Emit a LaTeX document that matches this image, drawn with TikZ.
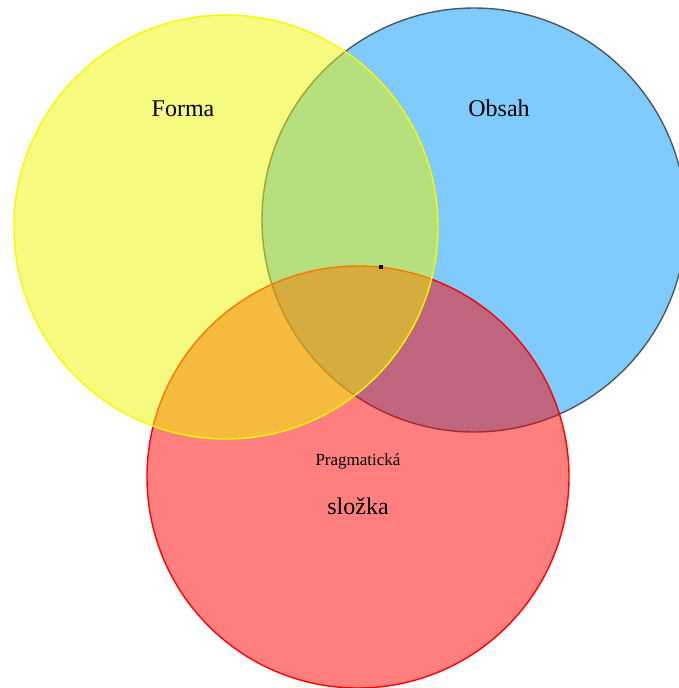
\documentclass[tikz,border=0pt]{standalone}
\usepackage{fontspec}
\setmainfont{Liberation Serif}
\definecolor{ringblue}{RGB}{0,151,251}
\definecolor{edgeblue}{RGB}{72,88,96}
\definecolor{fillred}{RGB}{255,0,0}
\definecolor{fillyellow}{RGB}{237,245,0}
\definecolor{edgeyellow}{RGB}{245,250,0}
\tikzset{
  setring/.style={circle, inner sep=0pt, minimum size=#1, line width=1.4pt, fill opacity=0.5},
  biglabel/.style={font=\fontsize{24}{28}\selectfont, anchor=base, inner sep=0pt},
  smalllabel/.style={font=\fontsize{17}{20}\selectfont, anchor=base, inner sep=0pt},
}
\begin{document}
\begin{tikzpicture}[x=1pt,y=-1pt]
\useasboundingbox (0,0) rectangle (678,688);
\node[setring=424pt, draw=edgeblue, fill=ringblue] (obsahring) at (474,220) {};
\node[setring=422pt, draw=fillred, fill=fillred] (pragring) at (358,477) {};
\node[setring=424pt, draw=edgeyellow, fill=fillyellow] (formaring) at (226,227) {};
\node[biglabel] (forma) at (183,116) {Forma};
\node[biglabel] (obsah) at (499,116) {Obsah};
\node[smalllabel] (prag) at (358,465) {Pragmatická};
\node[biglabel] (slozka) at (358,514) {složka};
\node[fill=black, inner sep=0pt, minimum size=3.6pt] (dot) at (381,267) {};
\end{tikzpicture}
\end{document}
